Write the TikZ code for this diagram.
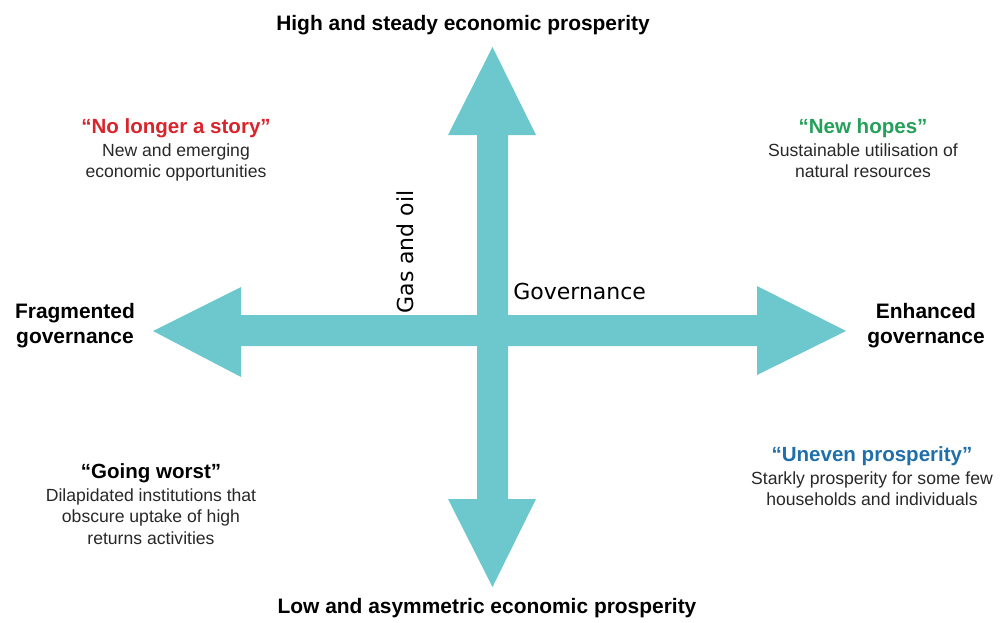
\documentclass[tikz,border=0pt]{standalone}
\usepackage{fontspec}
\setmainfont{Liberation Sans}
\newfontfamily\axisfont{DejaVu Sans}
\usetikzlibrary{positioning}

\definecolor{arrowteal}{RGB}{109,200,206}
\definecolor{storyred}{RGB}{218,36,44}
\definecolor{hopegreen}{RGB}{36,160,90}
\definecolor{unevenblue}{RGB}{32,110,170}
\definecolor{bodygray}{RGB}{40,40,40}

\tikzset{
  pole/.style={font=\bfseries\fontsize{15.7}{18.8}\selectfont, align=center, inner sep=0pt},
  quadtitle/.style={font=\bfseries\fontsize{15.4}{17}\selectfont, inner sep=0pt},
  quadbody/.style={font=\fontsize{13.2}{15.8}\selectfont, align=center, inner sep=0pt, text=bodygray},
  axislabel/.style={font=\axisfont\fontsize{16.5}{19}\selectfont, inner sep=0pt}
}

\begin{document}
\begin{tikzpicture}[x=0.75pt,y=-0.75pt]
\useasboundingbox (0,0) rectangle (1003,622);
% vertical arrow
\fill[arrowteal] (477,135) -- (448,135) -- (492.5,47) -- (536,135) -- (508,135)
  -- (508,499) -- (536,499) -- (492.5,587) -- (448,499) -- (477,499) -- cycle;
% horizontal arrow
\fill[arrowteal] (241,315) -- (241,287) -- (153,331) -- (241,377) -- (241,346)
  -- (757,346) -- (757,375) -- (846,331) -- (757,286) -- (757,315) -- cycle;
% poles
\node[pole] (high) at (463,25) {High and steady economic prosperity};
\node[pole] (low) at (487,608) {Low and asymmetric economic prosperity};
\node[pole] (frag) at (75,326) {Fragmented\\governance};
\node[pole] (enh) at (926,326) {Enhanced\\governance};
% axis labels
\node[axislabel, rotate=90] (gas) at (405,252) {Gas and oil};
\node[axislabel, anchor=west] (gov) at (513,291) {Governance};
% quadrants
\node[quadtitle, text=storyred] (story) at (176,128) {``No longer a story''};
\node[quadbody, below=4pt of story] (storytxt) {New and emerging\\economic opportunities};
\node[quadtitle, text=hopegreen] (hopes) at (863,128) {``New hopes''};
\node[quadbody, below=4pt of hopes] (hopestxt) {Sustainable utilisation of\\natural resources};
\node[quadtitle] (worst) at (151,473) {``Going worst''};
\node[quadbody, below=4.5pt of worst] (worsttxt) {Dilapidated institutions that\\obscure uptake of high\\returns activities};
\node[quadtitle, text=unevenblue] (uneven) at (872,456) {``Uneven prosperity''};
\node[quadbody, below=4.5pt of uneven] (uneventxt) {Starkly prosperity for some few\\households and individuals};
\end{tikzpicture}
\end{document}
